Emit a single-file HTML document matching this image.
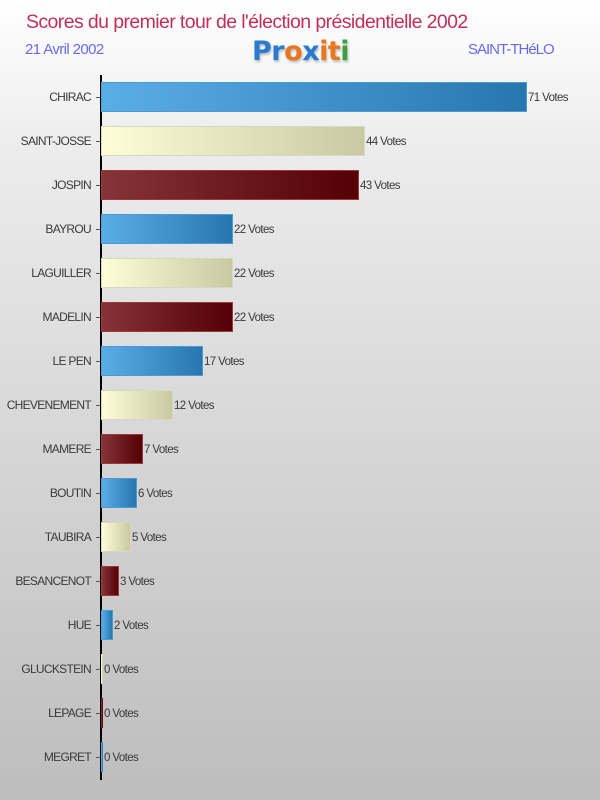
<!DOCTYPE html>
<html><head><meta charset="utf-8"><style>
body{margin:0;width:600px;height:800px;overflow:hidden;font-family:"Liberation Sans",sans-serif;}
#c{position:relative;width:600px;height:800px;background:linear-gradient(#ffffff 0px,#ececec 150px,#d6d6d6 450px,#bdbdbd 800px);}
.t{position:absolute;white-space:nowrap;}
.lab{position:absolute;right:509px;font-size:12px;color:#3a3a3a;letter-spacing:-0.7px;line-height:14px;}
.val{position:absolute;font-size:11.5px;color:#3a3a3a;letter-spacing:-0.6px;line-height:14px;}
.tick{position:absolute;left:96px;width:4px;height:1px;background:#555;}
.bar{position:absolute;left:101px;height:30px;box-sizing:border-box;}
.b{background:linear-gradient(90deg,#5aaee8,#2876b0);border:1px solid #4a9ad4;}
.y{background:linear-gradient(90deg,#fdfdd8,#c9c9a2);border:1px solid #d8d8c0;}
.r{background:linear-gradient(90deg,#853438,#540004);border:1px solid #9a3a3e;}
</style></head><body><div id="c">
<div class="t" style="left:26px;top:11px;font-size:19.5px;color:#c0305a;letter-spacing:-0.6px;">Scores du premier tour de l'élection présidentielle 2002</div>
<div class="t" style="left:25px;top:41px;font-size:15px;color:#6a6ae8;letter-spacing:-0.6px;">21 Avril 2002</div>
<div class="t" style="left:468px;top:41px;font-size:15px;color:#6a6ae8;letter-spacing:-1px;">SAINT-THéLO</div>
<div class="t" style="left:252px;top:36px;font-size:27px;font-family:'DejaVu Sans',sans-serif;font-weight:bold;letter-spacing:-0.5px;text-shadow:1px 2px 2px #bbb;"><span style="color:#2a7ad0">P</span><span style="color:#2a7ad0">r</span><span style="color:#e87820">o</span><span style="color:#2a7ad0">x</span><span style="color:#e87820">i</span><span style="color:#e87820">t</span><span style="color:#3aa040">i</span></div>
<div style="position:absolute;left:100px;top:75px;width:2px;height:705px;background:#000;"></div>
<div id="rows"></div>
</div>
<script>
var d=[["CHIRAC",71,"b"],["SAINT-JOSSE",44,"y"],["JOSPIN",43,"r"],["BAYROU",22,"b"],["LAGUILLER",22,"y"],["MADELIN",22,"r"],["LE PEN",17,"b"],["CHEVENEMENT",12,"y"],["MAMERE",7,"r"],["BOUTIN",6,"b"],["TAUBIRA",5,"y"],["BESANCENOT",3,"r"],["HUE",2,"b"],["GLUCKSTEIN",0,"y"],["LEPAGE",0,"r"],["MEGRET",0,"b"]];
var h="";
d.forEach(function(e,i){var cy=97+44*i;var w=e[1]*6;
h+='<div class="lab" style="top:'+(cy-7)+'px">'+e[0]+'</div>';
h+='<div class="tick" style="top:'+cy+'px"></div>';
h+='<div class="bar '+e[2]+'" style="top:'+(cy-15)+'px;width:'+Math.max(w,2)+'px;'+(w==0?'border:none;':'')+'"></div>';
h+='<div class="val" style="top:'+(cy-6)+'px;left:'+(101+Math.max(w,2)+1)+'px">'+e[1]+' Votes</div>';});
document.getElementById("rows").innerHTML=h;
</script>
</body></html>
